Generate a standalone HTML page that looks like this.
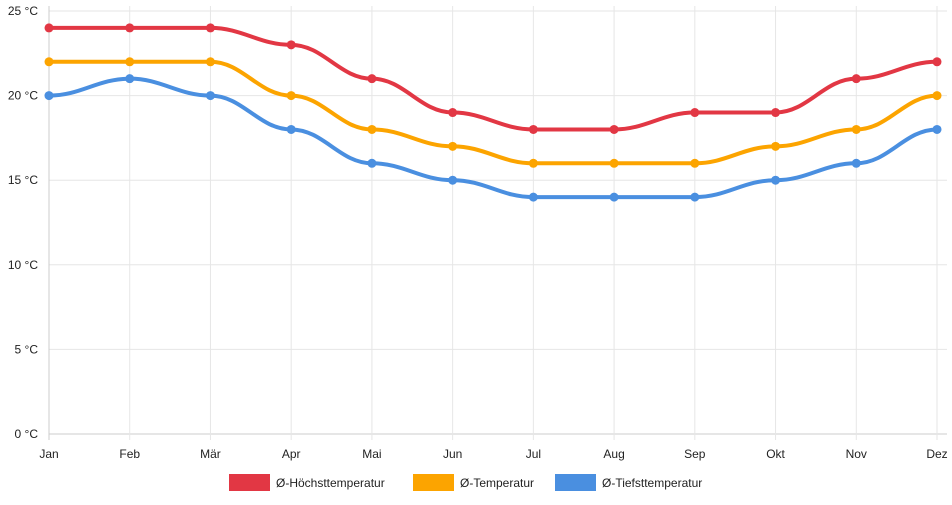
<!DOCTYPE html>
<html><head><meta charset="utf-8"><style>
body{margin:0;background:#fff;font-family:"Liberation Sans",sans-serif}
svg text{font-family:"Liberation Sans",sans-serif;font-size:12px;fill:#222}
</style></head><body>
<svg id="c" width="952" height="500"></svg>
<script>
const months=["Jan","Feb","Mär","Apr","Mai","Jun","Jul","Aug","Sep","Okt","Nov","Dez"];
const maxT=[24,24,24,23,21,19,18,18,19,19,21,22];
const avgT=[22,22,22,20,18,17,16,16,16,17,18,20];
const minT=[20,21,20,18,16,15,14,14,14,15,16,18];
const yTicks=[0,5,10,15,20,25];
const seriesNames=["Ø-Höchsttemperatur","Ø-Temperatur","Ø-Tiefsttemperatur"];
const colors=["#e23744","#fca400","#4a8fe0"];
const svg=document.getElementById('c');const NS="http://www.w3.org/2000/svg";
const X0=49,X1=937,Y0=434,Y1=11;
const x=i=>X0+i*(X1-X0)/(months.length-1);
const y=v=>Y0-(v-0)/(25-0)*(Y0-Y1);
function el(t,a,p){const e=document.createElementNS(NS,t);for(const k in a)e.setAttribute(k,a[k]);(p||svg).appendChild(e);return e;}
yTicks.forEach(v=>{
 const l=el('line',{x1:X0,x2:X1+10,y1:y(v),y2:y(v),stroke:v===0?'#ccc':'#e6e6e6'});
 
 
 const t=el('text',{x:38,y:y(v)+4,'text-anchor':'end'});t.textContent=v+' °C';
 
 
});
months.forEach((m,i)=>{
 const l=el('line',{x1:x(i),x2:x(i),y1:Y1-5,y2:Y0+6,stroke:i===0?'#ccc':'#e6e6e6'});
 
 
 const t=el('text',{x:x(i),y:458,'text-anchor':'middle'});t.textContent=m;
 
 
});
[maxT,avgT,minT].forEach((s,k)=>{
 const g=el('g',{});
 
 
 let d='';
 for(let i=0;i<s.length;i++){
  if(i===0)d='M'+x(0)+','+y(s[0]);
  else{const xp=x(i-1),xc=x(i),cx=(xc-xp)*0.4;d+=` C${xp+cx},${y(s[i-1])} ${xc-cx},${y(s[i])} ${xc},${y(s[i])}`;}
 }
 const p=el('path',{d:d,fill:'none',stroke:colors[k],'stroke-width':4},g);
 
 
 s.forEach((v,i)=>{const c=el('circle',{cx:x(i),cy:y(v),r:4.5,fill:colors[k]},g);
  
  });
});
const lx=[229,413,555];
seriesNames.forEach((n,k)=>{
 const g=el('g',{});
 
 
 el('rect',{x:lx[k],y:474,width:41,height:17,fill:colors[k]},g);
 const t=el('text',{x:lx[k]+47,y:487},g);t.textContent=n;
});
</script>
</body></html>
